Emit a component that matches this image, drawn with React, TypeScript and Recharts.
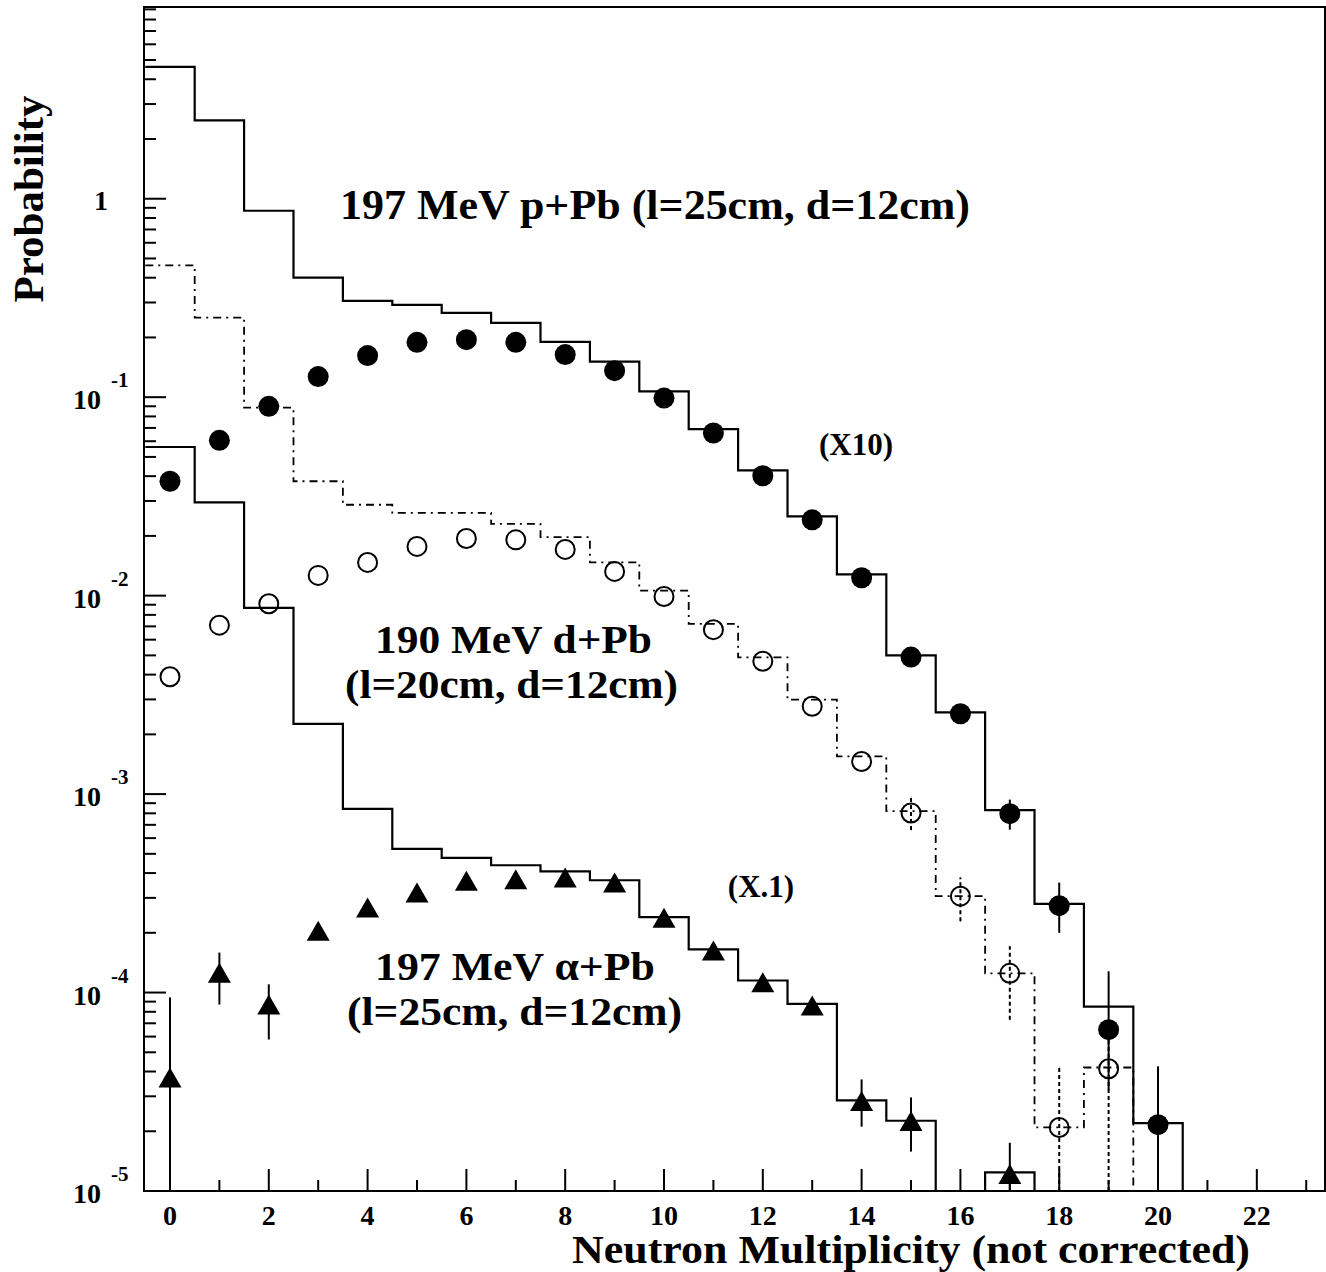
import React from 'react';
import { ComposedChart, Line, Scatter, XAxis, YAxis, ErrorBar, ReferenceArea } from 'recharts';

const W = 1326;
const H = 1272;
const FONT = "'Liberation Serif', 'Times New Roman', serif";

// axis ranges (log y)
const FLOOR = 1e-5;
const Y_MAX = 9.25;
const X_MIN = -0.526;
const X_MAX = 23.38;

const X_TICKS = Array.from({ length: 24 }, (_, i) => i);
const Y_DECADES = [-5, -4, -3, -2, -1, 0];
const Y_MINOR = [2, 3, 4, 5, 6, 7, 8, 9];

// 197 MeV p+Pb (x10): simulation histogram and data
const P_HIST = [4.62, 2.48, 0.87, 0.4, 0.306, 0.292, 0.266, 0.237, 0.19, 0.151, 0.107, 0.069, 0.0428, 0.0251, 0.0128, 0.005, 0.00258, 0.00083, 0.00028, 0.000085, 0.000022];
const P_DATA = [0.0377, 0.0606, 0.0899, 0.127, 0.162, 0.189, 0.195, 0.189, 0.164, 0.136, 0.099, 0.066, 0.0402, 0.0241, 0.0123, 0.0049, 0.00254, 0.000797, 0.000274, 0.000065, 0.0000216];
const P_LO = [null, null, null, null, null, null, null, null, null, null, null, null, null, null, null, null, null, 0.000662, 0.0002, 0.0000324, FLOOR];
const P_HI = [null, null, null, null, null, null, null, null, null, null, null, null, null, null, null, null, null, 0.000938, 0.000358, 0.000128, 0.0000425];

// 190 MeV d+Pb
const D_HIST = [0.461, 0.252, 0.0885, 0.0377, 0.0287, 0.0261, 0.0261, 0.023, 0.0197, 0.0147, 0.0106, 0.0072, 0.00489, 0.00299, 0.00155, 0.00082, 0.000306, 0.000125, 0.0000209, 0.0000419];
const D_DATA = [0.0039, 0.0071, 0.0091, 0.01265, 0.0147, 0.0177, 0.0194, 0.0191, 0.0171, 0.01325, 0.0099, 0.00674, 0.00467, 0.00277, 0.00146, 0.000803, 0.000306, 0.000125, 0.0000209, 0.0000413];
const D_LO = [null, null, null, null, null, null, null, null, null, null, null, null, null, null, null, 0.00066, 0.000229, 0.000073, FLOOR, FLOOR];
const D_HI = [null, null, null, null, null, null, null, null, null, null, null, null, null, null, null, 0.00096, 0.00038, 0.000171, 0.0000419, 0.000058];

// 197 MeV alpha+Pb (x.1)
const A_HIST = [0.0561, 0.0295, 0.00867, 0.00226, 0.000842, 0.00053, 0.000477, 0.000438, 0.000408, 0.000368, 0.00024, 0.000165, 0.000115, 0.0000877, 0.0000286, 0.0000226, FLOOR, 0.0000124];
const A_DATA = [0.0000365, 0.000123, 0.000085, 0.0002, 0.000262, 0.000312, 0.000357, 0.000364, 0.000371, 0.00035, 0.000233, 0.000159, 0.00011, 0.000084, 0.0000278, 0.000022, null, 0.0000119];
const A_LO = [FLOOR, 0.000087, 0.000058, null, null, null, null, null, null, null, null, null, null, null, 0.0000211, 0.0000158, null, FLOOR];
const A_HI = [0.0000946, 0.000159, 0.00011, null, null, null, null, null, null, null, null, null, null, null, 0.0000365, 0.0000296, null, 0.0000175];

const Y_TICKS = Y_DECADES.flatMap((e) => [Math.pow(10, e), ...Y_MINOR.map((m) => m * Math.pow(10, e))]).filter((v) => v <= Y_MAX);

// bin edges at half-integers, last bin drops to the axis
const stepPoints = (vals: number[]) => {
  const pts = vals.map((v, i) => ({ x: i - 0.5, y: v }));
  pts.push({ x: vals.length - 0.5, y: FLOOR });
  return pts;
};

const dataPoints = (vals: (number | null)[], lo: (number | null)[], hi: (number | null)[]) =>
  vals
    .map((v, i) => {
      if (v == null) return null;
      const l = lo[i];
      const h = hi[i];
      return { x: i, y: v, err: l != null && h != null ? [v - l, h - v] : undefined };
    })
    .filter(Boolean) as { x: number; y: number; err?: number[] }[];

const FilledDot = (p: any) => <circle cx={p.cx} cy={p.cy} r={10.5} fill="#000" />;
const OpenDot = (p: any) => <circle cx={p.cx} cy={p.cy} r={9.5} fill="none" stroke="#000" strokeWidth={2} />;
const Triangle = (p: any) => (
  <path d={`M${p.cx},${p.cy - 12}L${p.cx + 11.5},${p.cy + 8}L${p.cx - 11.5},${p.cy + 8}Z`} fill="#000" />
);

const XTick = (props: any) => {
  const { x, y, payload } = props;
  const v = payload.value as number;
  const major = v % 2 === 0;
  return (
    <g>
      <line x1={x} x2={x} y1={y} y2={y - (major ? 22 : 11)} stroke="#000" strokeWidth={2} />
      {major && (
        <text x={x} y={y + 34} textAnchor="middle" fontFamily={FONT} fontWeight="bold" fontSize={28} fill="#000">
          {v}
        </text>
      )}
    </g>
  );
};

const YTick = (props: any) => {
  const { x, y, payload } = props;
  const v = payload.value as number;
  const lg = Math.log10(v);
  const major = Math.abs(lg - Math.round(lg)) < 1e-6;
  const e = Math.round(lg);
  return (
    <g>
      <line x1={x} x2={x + (major ? 22 : 12)} y1={y} y2={y} stroke="#000" strokeWidth={2} />
      {major && e === 0 && (
        <text x={x - 36} y={y + 11} textAnchor="end" fontFamily={FONT} fontWeight="bold" fontSize={28} fill="#000">
          1
        </text>
      )}
      {major && e !== 0 && (
        <g>
          <text x={x - 43} y={y + 12} textAnchor="end" fontFamily={FONT} fontWeight="bold" fontSize={28} fill="#000">
            10
          </text>
          <text x={x - 33} y={y - 10} textAnchor="start" fontFamily={FONT} fontWeight="bold" fontSize={21} fill="#000">
            {e}
          </text>
        </g>
      )}
    </g>
  );
};

const Labels = () => (
  <svg width={W} height={H} style={{ position: 'absolute', left: 0, top: 0, pointerEvents: 'none' }}>
    <g fontFamily={FONT} fontWeight="bold" fill="#000">
      <text x={28} y={199} fontSize={43} textAnchor="middle" dominantBaseline="central" transform="rotate(-90 28 199)">
        Probability
      </text>
      <text x={1250} y={1263} fontSize={39} textAnchor="end" textLength={678} lengthAdjust="spacingAndGlyphs">
        Neutron Multiplicity (not corrected)
      </text>
      <text x={340} y={219} fontSize={43} textLength={630} lengthAdjust="spacingAndGlyphs">
        197 MeV p+Pb (l=25cm, d=12cm)
      </text>
      <text x={856} y={455} fontSize={31} textAnchor="middle">(X10)</text>
      <text x={375} y={653} fontSize={40} textLength={277} lengthAdjust="spacingAndGlyphs">190 MeV d+Pb</text>
      <text x={345} y={698} fontSize={40} textLength={333} lengthAdjust="spacingAndGlyphs">(l=20cm, d=12cm)</text>
      <text x={761} y={897} fontSize={31} textAnchor="middle">(X.1)</text>
      <text x={375} y={980} fontSize={40} textLength={280} lengthAdjust="spacingAndGlyphs">197 MeV α+Pb</text>
      <text x={347} y={1025} fontSize={40} textLength={335} lengthAdjust="spacingAndGlyphs">(l=25cm, d=12cm)</text>
    </g>
  </svg>
);

export default function App() {
  const pHist = stepPoints(P_HIST);
  const dHist = stepPoints(D_HIST);
  const aHist = stepPoints(A_HIST);
  const pPts = dataPoints(P_DATA, P_LO, P_HI);
  const dPts = dataPoints(D_DATA, D_LO, D_HI);
  const aPts = dataPoints(A_DATA, A_LO, A_HI);

  return (
    <div style={{ position: 'absolute', left: 0, top: 0, width: W, height: H, background: '#fff' }}>
      <ComposedChart width={W} height={H} margin={{ top: 7, right: 1, bottom: 0, left: 0 }}>
        <XAxis
          dataKey="x"
          type="number"
          domain={[X_MIN, X_MAX]}
          allowDataOverflow
          ticks={X_TICKS}
          interval={0}
          tick={<XTick />}
          tickLine={false}
          tickSize={0}
          tickMargin={0}
          height={81}
          axisLine={{ stroke: '#000', strokeWidth: 2 }}
        />
        <YAxis
          dataKey="y"
          type="number"
          scale="log"
          domain={[FLOOR, Y_MAX]}
          allowDataOverflow
          ticks={Y_TICKS}
          interval={0}
          tick={<YTick />}
          tickLine={false}
          tickSize={0}
          tickMargin={0}
          width={144}
          axisLine={{ stroke: '#000', strokeWidth: 2 }}
        />
        <ReferenceArea x1={X_MIN} x2={X_MAX} y1={FLOOR} y2={Y_MAX} fill="none" stroke="#000" strokeWidth={2} ifOverflow="visible" />
        <Line data={pHist} dataKey="y" type="stepAfter" stroke="#000" strokeWidth={2.2} dot={false} activeDot={false} isAnimationActive={false} />
        <Line data={dHist} dataKey="y" type="stepAfter" stroke="#000" strokeWidth={1.8} strokeDasharray="8 5 2 5" dot={false} activeDot={false} isAnimationActive={false} />
        <Line data={aHist} dataKey="y" type="stepAfter" stroke="#000" strokeWidth={2.2} dot={false} activeDot={false} isAnimationActive={false} />
        <Scatter data={pPts} shape={FilledDot} isAnimationActive={false}>
          <ErrorBar dataKey="err" direction="y" width={0} stroke="#000" strokeWidth={2} />
        </Scatter>
        <Scatter data={dPts} shape={OpenDot} isAnimationActive={false}>
          <ErrorBar dataKey="err" direction="y" width={0} stroke="#000" strokeWidth={2} strokeDasharray="4 3" />
        </Scatter>
        <Scatter data={aPts} shape={Triangle} isAnimationActive={false}>
          <ErrorBar dataKey="err" direction="y" width={0} stroke="#000" strokeWidth={2} />
        </Scatter>
      </ComposedChart>
      <Labels />
    </div>
  );
}
